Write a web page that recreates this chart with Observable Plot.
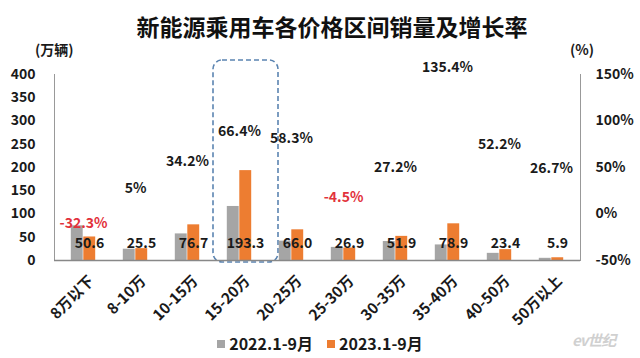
<!DOCTYPE html>
<html><head><meta charset="utf-8">
<script src="https://cdn.jsdelivr.net/npm/d3@7"></script>
<script src="https://cdn.jsdelivr.net/npm/@observablehq/plot@0.6"></script>
<style>
body{margin:0;background:#fff;font-family:"Noto Sans CJK SC","Noto Sans",sans-serif;}
#wrap{position:relative;width:640px;height:358px;overflow:hidden;background:#fff}
#wrap svg{position:absolute;left:0;top:0}
.t{position:absolute;font-weight:bold;color:#1a1a1a;white-space:nowrap}
#title{left:12px;width:640px;top:9px;text-align:center;font-size:23px;color:#111}
#unitL{left:35px;top:39px;font-size:14px}
#unitR{left:570px;top:39px;font-size:14px}
#legend{left:0;width:640px;top:331px;text-align:center;font-size:16px}
#legend span.sw{display:inline-block;width:8px;height:8px;margin-right:4px;vertical-align:2px}
#legend span.it{margin:0 7px}
#logo{left:572px;top:329px;font-size:15px;color:#d0d0d0;font-style:italic;letter-spacing:-1px}
</style></head><body><div id="wrap"></div>
<script>
const categories = ["8万以下","8-10万","10-15万","15-20万","20-25万","25-30万","30-35万","35-40万","40-50万","50万以上"];
const sales2022 = [74.7, 24.3, 57.2, 116.2, 41.7, 28.2, 40.8, 33.5, 15.4, 4.7];
const sales2023 = [50.6, 25.5, 76.7, 193.3, 66.0, 26.9, 51.9, 78.9, 23.4, 5.9];
const growth = [-32.3, 5, 34.2, 66.4, 58.3, -4.5, 27.2, 135.4, 52.2, 26.7];
const growthLabels = ["-32.3%","5%","34.2%","66.4%","58.3%","-4.5%","27.2%","135.4%","52.2%","26.7%"];
const leftTicks = [0, 50, 100, 150, 200, 250, 300, 350, 400];
const rightTicks = [-50, 0, 50, 100, 150];
const seriesNames = ["2022.1-9月", "2023.1-9月"];
const seriesColors = ["#a5a5a5", "#ed7d31"];
const highlight = "15-20万";
const title = "新能源乘用车各价格区间销量及增长率";

const rows = categories.map((c, i) => ({c, a: sales2022[i], b: sales2023[i], g: growth[i], gl: growthLabels[i]}));
const toLeft = g => (g + 50) * 2; // right axis (-50%..150%) onto left axis (0..400)
const fromLeft = v => v / 2 - 50;

const wrap = document.getElementById("wrap");
const chart = Plot.plot({
  width: 640, height: 358,
  marginTop: 74, marginBottom: 98, marginLeft: 54, marginRight: 60,
  x: {domain: categories, padding: 0},
  y: {domain: [0, 400]},
  style: {fontFamily: '"Noto Sans CJK SC","Noto Sans",sans-serif', fontSize: "14px", fontWeight: "bold", color: "#1a1a1a", background: "transparent"},
  marks: [
    Plot.cell([highlight], {x: d => d, fill: "none", stroke: "#5b84b1", strokeWidth: 1.6, strokeDasharray: "5,3", rx: 9, insetTop: -14, insetRight: -13, insetBottom: -2}),
    Plot.barY(rows, {x: "c", y: "a", fill: seriesColors[0], insetLeft: 13.8, insetRight: 26.3}),
    Plot.barY(rows, {x: "c", y: "b", fill: seriesColors[1], insetLeft: 26.3, insetRight: 13.8}),
    Plot.frame({anchor: "left", stroke: "#999"}),
    Plot.frame({anchor: "right", stroke: "#999"}),
    Plot.ruleY([0], {stroke: "#888", strokeWidth: 1.5}),
    Plot.axisY(leftTicks, {anchor: "left", tickSize: 0, tickPadding: 19, label: null, fontSize: 14}),
    Plot.axisY(rightTicks.map(toLeft), {anchor: "right", tickSize: 0, tickPadding: 15, label: null, fontSize: 14, tickFormat: v => fromLeft(v) + "%"}),
    Plot.axisX({tickRotate: -45, tickSize: 0, tickPadding: 18, dx: 8, label: null, fontSize: 15}),
    Plot.text(rows.filter(d => d.g >= 0), {x: "c", y: d => toLeft(d.g), text: "gl", dy: -21, fill: "#1a1a1a", fontSize: 14}),
    Plot.text(rows.filter(d => d.g < 0), {x: "c", y: d => toLeft(d.g), text: "gl", dy: -21, fill: "#e2323b", fontSize: 14}),
    Plot.text(rows, {x: "c", y: 0, text: d => d.b.toFixed(1), dx: 6, dy: -17, fill: "#1a1a1a", fontSize: 14})
  ]
});
wrap.appendChild(chart);

function addText(id, html) {
  const d = document.createElement("div");
  d.className = "t"; d.id = id; d.innerHTML = html;
  wrap.appendChild(d);
}
addText("title", title);
addText("unitL", "(万辆)");
addText("unitR", "(%)");
addText("legend", seriesNames.map((n, i) => `<span class="it"><span class="sw" style="background:${seriesColors[i]}"></span>${n}</span>`).join(""));
addText("logo", "ev世纪");
</script>
</body></html>
